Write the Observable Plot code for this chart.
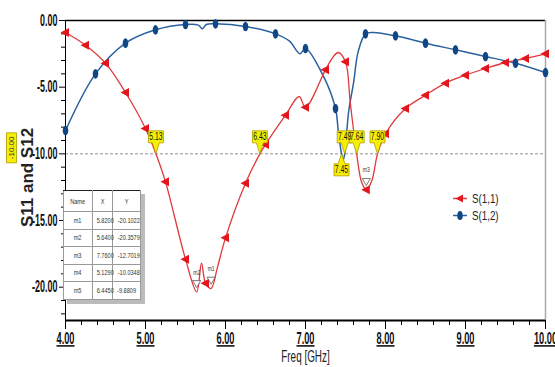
<!DOCTYPE html>
<html><head><meta charset="utf-8">
<script src="https://cdn.jsdelivr.net/npm/d3@7"></script>
<script src="https://cdn.jsdelivr.net/npm/@observablehq/plot@0.6"></script>
<style>
body{margin:0;background:#fff;}
#wrap{position:relative;width:555px;height:367px;overflow:hidden;font-family:"Liberation Sans",Arial,sans-serif;}
#wrap > svg{position:absolute;left:0;top:0;}
g[aria-label="x-axis tick label"] text{text-decoration:underline;}
#tbl{position:absolute;left:63px;top:190px;width:74px;border-collapse:collapse;table-layout:fixed;font-size:8px;color:#333;background:#fff;box-shadow:4px 4px 0 #bbb;}
#tbl td{border:1px solid #999;text-align:center;padding:0;height:16.5px;overflow:visible;white-space:nowrap;}
#tbl td span{display:inline-block;transform:scaleX(0.7);}
#tbl tr:first-child td{border-top:1.5px solid #222;}
#legend{position:absolute;left:452px;top:190px;font-size:13px;color:#222;line-height:17px;}
#legend div{display:flex;align-items:center;}
#legend svg{position:static;margin-right:4px;}
#legend span{display:inline-block;transform:scaleX(0.75);transform-origin:left center;}
</style></head><body><div id="wrap"></div>
<script>
// ---- data ----
const s11Freq = [4.00,4.25,4.50,4.75,5.00,5.13,5.25,5.50,5.64,5.70,5.75,5.82,5.90,6.00,6.25,6.43,6.50,6.75,6.92,7.00,7.25,7.35,7.41,7.50,7.56,7.64,7.70,7.76,7.83,7.90,8.00,8.25,8.50,8.75,9.00,9.25,9.50,9.75,10.00];
const s11Val  = [-0.9,-1.85,-3.2,-5.4,-8.1,-10.0,-12.1,-17.9,-20.36,-18.2,-19.7,-20.10,-18.5,-16.3,-12.2,-10.0,-9.3,-7.1,-5.7,-6.5,-3.7,-2.7,-2.4,-3.1,-6.2,-10.0,-12.1,-12.70,-12.0,-10.0,-8.5,-6.6,-5.6,-4.7,-4.1,-3.6,-3.15,-2.85,-2.5];
const s11MarkerFreq = [4.00,4.25,4.50,4.75,5.00,5.25,5.50,5.75,6.00,6.25,6.50,6.75,7.00,7.25,7.50,7.76,8.00,8.25,8.50,8.75,9.00,9.25,9.50,9.75,10.00];

const s12Freq = [4.000,4.375,4.750,5.125,5.500,5.660,5.710,5.760,5.875,6.250,6.625,6.800,6.930,7.000,7.230,7.375,7.410,7.450,7.470,7.490,7.540,7.600,7.660,7.750,7.850,8.125,8.500,8.875,9.250,9.625,10.000];
const s12Val  = [-8.25,-4.0,-1.7,-0.7,-0.3,-0.35,-0.62,-0.3,-0.25,-0.45,-1.0,-1.55,-2.5,-2.1,-4.25,-6.6,-8.3,-10.0,-10.5,-10.0,-6.8,-4.7,-2.3,-1.0,-0.9,-1.15,-1.7,-2.2,-2.7,-3.2,-3.9];
const s12MarkerFreq = [4.000,4.375,4.750,5.125,5.500,5.875,6.250,6.625,7.000,7.375,7.750,8.125,8.500,8.875,9.250,9.625,10.000];

const xTicks = [4,5,6,7,8,9,10];
const yTicks = [0,-5,-10,-15,-20];
const xDomain = [4,10];
const yDomain = [-22.5,0];
const refLevel = -10;
const calloutAboveFreq = [5.13,6.43,7.49,7.64,7.90];
const calloutBelowFreq = [7.45];
const plotMarkerNames = ["m1","m2","m3"];
const plotMarkerFreq  = [5.82,5.64,7.76];
const plotMarkerVal   = [-20.1022,-20.3579,-12.7019];
const tableNames = ["m1","m2","m3","m4","m5"];
const tableX = ["5.8200","5.6400","7.7600","5.1290","6.4450"];
const tableY = ["-20.1022","-20.3579","-12.7019","-10.0348","-9.8809"];
const seriesNames = ["S(1,1)","S(1,2)"];
const xLabel = "Freq [GHz]";
const yLabel = "S11 and S12";

// ---- build ----
const s11 = s11Freq.map((f,i)=>({f, v:s11Val[i]}));
const s12 = s12Freq.map((f,i)=>({f, v:s12Val[i]}));
const s11m = s11.filter(d=>s11MarkerFreq.includes(d.f));
const s12m = s12.filter(d=>s12MarkerFreq.includes(d.f));
const mk = plotMarkerNames.map((n,i)=>({n, f:plotMarkerFreq[i], v:plotMarkerVal[i]}));
const xMinor = d3.range(40,101,2).map(d=>d/10).filter(d=>!xTicks.includes(d));
const yMinor = d3.range(0,-23,-1).filter(d=>!yTicks.includes(d));

const RED="#e3161d", REDL="#e0383c", BLUE="#0f4685", BLUEL="#2a62a0";
const ellipse = {draw(c){const rx=2.8, ry=4.8, k=0.5523;
  c.moveTo(0,-ry);
  c.bezierCurveTo(rx*k,-ry,rx,-ry*k,rx,0);
  c.bezierCurveTo(rx,ry*k,rx*k,ry,0,ry);
  c.bezierCurveTo(-rx*k,ry,-rx,ry*k,-rx,0);
  c.bezierCurveTo(-rx,-ry*k,-rx*k,-ry,0,-ry);
  c.closePath();}};
const leftTri = {draw(c){c.moveTo(-5,0);c.lineTo(3.5,-4.5);c.lineTo(3.5,4.5);c.closePath();}};
const W=15,H=12,P=11;
const calloutUp = {draw(c){c.moveTo(0,0);c.lineTo(-3.5,-P);c.lineTo(-W/2,-P);c.lineTo(-W/2,-P-H);c.lineTo(W/2,-P-H);c.lineTo(W/2,-P);c.lineTo(3.5,-P);c.closePath();}};
const calloutDown = {draw(c){c.moveTo(0,0);c.lineTo(-3.5,P-1);c.lineTo(-W/2,P-1);c.lineTo(-W/2,P-1+H);c.lineTo(W/2,P-1+H);c.lineTo(W/2,P-1);c.lineTo(3.5,P-1);c.closePath();}};
const vBox = {draw(c){c.rect(-5,-15,10,30);}};
const tickFont = {fontSize:16, fontWeight:"bold", fill:"#111"};
const NARROW = {ariaDescription:"narrow"};

const chart = Plot.plot({
  width:555, height:367,
  marginLeft:65, marginRight:10, marginTop:20, marginBottom:47,
  style:{fontFamily:'"Liberation Sans",Arial,sans-serif', background:"transparent", overflow:"visible"},
  x:{domain:xDomain},
  y:{domain:yDomain},
  marks:[
    Plot.ruleY([refLevel],{stroke:"#777",strokeWidth:0.8,strokeDasharray:"3,2"}),
    Plot.ruleY([yDomain[1]],{stroke:"#000",strokeWidth:1.5}),
    Plot.ruleX([xDomain[1]],{stroke:"#aaa",strokeWidth:1.5}),
    Plot.ruleX([xDomain[0]],{stroke:"#000",strokeWidth:1}),
    Plot.ruleY([yDomain[0]],{stroke:"#000",strokeWidth:2}),
    Plot.axisX(xTicks,{tickSize:9,tickPadding:3,tickFormat:d=>d.toFixed(2),label:null,...tickFont,stroke:"#000"}),
    Plot.axisX(xMinor,{tickSize:5,tickFormat:()=>"",label:null,stroke:"#000"}),
    Plot.axisY(yTicks,{tickSize:6,tickPadding:2,tickFormat:d=>d===0?"0.00":d.toFixed(2),label:null,...tickFont,stroke:"#000"}),
    Plot.axisY(yMinor,{tickSize:4,tickFormat:()=>"",label:null,stroke:"#000"}),
    Plot.line(s12,{x:"f",y:"v",stroke:BLUEL,strokeWidth:1.5,curve:"catmull-rom"}),
    Plot.line(s11,{x:"f",y:"v",stroke:REDL,strokeWidth:1.3,curve:"catmull-rom"}),
    Plot.dot(s12m,{x:"f",y:"v",symbol:ellipse,fill:BLUE,stroke:"none"}),
    Plot.dot(s11m,{x:"f",y:"v",symbol:leftTri,fill:RED,stroke:"none"}),
    // m markers
    Plot.dot(mk,{x:"f",y:"v",symbol:"triangle",rotate:180,r:3,dy:-9,fill:"#fff",stroke:"#444",strokeWidth:0.7}),
    Plot.text(mk,{x:"f",y:"v",text:"n",dy:-20,fontSize:8,fill:"#333",...NARROW}),
    // callouts
    Plot.dot(calloutAboveFreq,{x:d=>d,y:()=>refLevel,symbol:calloutUp,fill:"#f6f000",stroke:"#b09a00",strokeWidth:0.8}),
    Plot.text(calloutAboveFreq,{x:d=>d,y:()=>refLevel,text:d=>d.toFixed(2),dy:-P-H/2,fontSize:11,fill:"#111",...NARROW}),
    Plot.dot(calloutBelowFreq,{x:d=>d,y:()=>refLevel,symbol:calloutDown,fill:"#f6f000",stroke:"#b09a00",strokeWidth:0.8}),
    Plot.text(calloutBelowFreq,{x:d=>d,y:()=>refLevel,text:d=>d.toFixed(2),dy:P-1+H/2,fontSize:11,fill:"#111",...NARROW}),
    // y reference label
    Plot.dot([refLevel],{y:d=>d,frameAnchor:"left",dx:-54,dy:-6,symbol:vBox,fill:"#f6f000",stroke:"#b09a00",strokeWidth:0.8}),
    Plot.text([refLevel],{y:d=>d,frameAnchor:"left",textAnchor:"middle",dx:-54,dy:-6,rotate:-90,text:d=>d.toFixed(2),fontSize:8,fill:"#333"}),
    // axis titles
    Plot.text([xLabel],{frameAnchor:"bottom",dy:41,text:d=>d,fontSize:16,fill:"#222",...NARROW}),
    Plot.text([yLabel],{frameAnchor:"left",textAnchor:"middle",dx:-38,dy:7,rotate:-90,text:d=>d,fontSize:17,fontWeight:"bold",fill:"#222"})
  ]
});
const wrap = document.getElementById("wrap");
wrap.appendChild(chart);

// condense text horizontally (narrow font look): append a scale to each text's own transform
function narrow(sel, s){
  chart.querySelectorAll(sel).forEach(t=>{
    const tr = t.getAttribute("transform")||"";
    t.setAttribute("transform", (tr+` scale(${s},1)`).trim());
  });
}
narrow('g[aria-label="x-axis tick label"] text',0.58);
narrow('g[aria-label="y-axis tick label"] text',0.56);
narrow('g[aria-description="narrow"] text',0.62);

// marker table
const tbl = document.createElement("table"); tbl.id="tbl";
const rows = [["Name","X","Y"], ...tableNames.map((n,i)=>[n,tableX[i],tableY[i]])];
const widths=[28,19,27];
rows.forEach(r=>{const tr=document.createElement("tr"); r.forEach((c,j)=>{const td=document.createElement("td"); const sp=document.createElement("span"); sp.textContent=c; td.appendChild(sp); td.style.width=widths[j]+"px"; tr.appendChild(td);}); tbl.appendChild(tr);});
tbl.rows[0].style.height="21px";
wrap.appendChild(tbl);

// legend
const lg = document.createElement("div"); lg.id="legend";
seriesNames.forEach((n,i)=>{
  const row=document.createElement("div");
  const sym = i===0
    ? `<path d="M1 6.5h14" stroke="${REDL}" stroke-width="1.5"/><path d="M3.5 6.5L11 2.5L11 10.5Z" fill="${RED}"/>`
    : `<path d="M1 6.5h14" stroke="${BLUEL}" stroke-width="1.5"/><ellipse cx="8" cy="6.5" rx="2.7" ry="4.6" fill="${BLUE}"/>`;
  row.innerHTML=`<svg width="16" height="13">${sym}</svg><span>${n}</span>`;
  lg.appendChild(row);
});
wrap.appendChild(lg);
</script></body></html>
